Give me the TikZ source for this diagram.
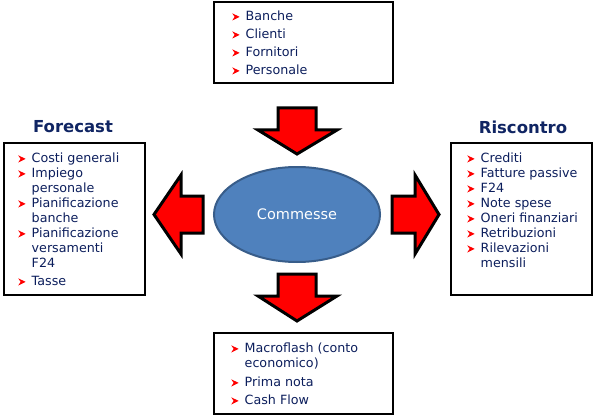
\documentclass[tikz,border=0pt]{standalone}
\usepackage{fontspec}
\setmainfont{DejaVu Sans}
\usetikzlibrary{shapes.geometric}
\definecolor{txt}{RGB}{12,30,92}
\definecolor{ttl}{RGB}{16,37,99}
\definecolor{ellfill}{RGB}{79,129,189}
\definecolor{elldraw}{RGB}{56,93,138}
\definecolor{arrred}{RGB}{255,0,0}
\newcommand\rbul{\makebox[13.5pt][l]{\tikz[baseline=0pt,x=1pt,y=1pt]\fill[red](0,0)--(7.5,3.6)--(0,7.2)--(2.4,3.6)--cycle;}}
\tikzset{
  box/.style={draw=black,line width=1.6pt},
  listtext/.style={anchor=base west,inner sep=0pt,text=txt,font=\fontsize{12.7}{15}\selectfont},
  titletext/.style={text=ttl,font=\fontsize{16.5}{19}\selectfont\bfseries,inner sep=0pt},
  bigarrow/.style={fill=arrred,draw=black,line width=3pt,line join=miter}
}
\begin{document}
\begin{tikzpicture}[x=1pt,y=-1pt]
\useasboundingbox (0,0) rectangle (594,417);
% boxes
\draw[box] (214,2) rectangle (393,83);
\draw[box] (4,143) rectangle (145,295);
\draw[box] (451,143) rectangle (592,295);
\draw[box] (214,333) rectangle (393,414);
% titles
\node[titletext] (tf) at (73,127) {Forecast};
\node[titletext] (tr) at (523,127) {Riscontro};
% lists
\node[listtext] (ltop) at (232,20.5) {\begin{tabular}[t]{@{}l@{}l@{}}
\rbul&Banche\\[3pt]
\rbul&Clienti\\[3pt]
\rbul&Fornitori\\[3pt]
\rbul&Personale
\end{tabular}};
\node[listtext] (lfc) at (18,162.5) {\begin{tabular}[t]{@{}l@{}l@{}}
\rbul&Costi generali\\
\rbul&Impiego\\
&personale\\
\rbul&Pianificazione\\
&banche\\
\rbul&Pianificazione\\
&versamenti\\
&F24\\[3pt]
\rbul&Tasse
\end{tabular}};
\node[listtext] (lrc) at (467,162.5) {\begin{tabular}[t]{@{}l@{}l@{}}
\rbul&Crediti\\
\rbul&Fatture passive\\
\rbul&F24\\
\rbul&Note spese\\
\rbul&Oneri finanziari\\
\rbul&Retribuzioni\\
\rbul&Rilevazioni\\
&mensili
\end{tabular}};
\node[listtext] (lbot) at (231,352.5) {\begin{tabular}[t]{@{}l@{}l@{}}
\rbul&Macroflash (conto\\
&economico)\\[4pt]
\rbul&Prima nota\\[3pt]
\rbul&Cash Flow
\end{tabular}};
% ellipse
\node[ellipse,fill=ellfill,draw=elldraw,line width=2pt,minimum width=166pt,minimum height=95pt,
      text=white,font=\fontsize{14.5}{17}\selectfont] (c) at (297,214.5) {Commesse};
% arrows
\draw[bigarrow] (278,108) -- (316,108) -- (316,130) -- (337,130) -- (297,154) -- (258,130) -- (278,130) -- cycle;
\draw[bigarrow] (278,274) -- (316,274) -- (316,296) -- (337,296) -- (297,321) -- (258,296) -- (278,296) -- cycle;
\draw[bigarrow] (203,196) -- (203,233) -- (181,233) -- (181,254) -- (154,214.5) -- (181,175) -- (181,196) -- cycle;
\draw[bigarrow] (392,196) -- (392,233) -- (415,233) -- (415,254) -- (439,214.5) -- (415,175) -- (415,196) -- cycle;
\end{tikzpicture}
\end{document}
